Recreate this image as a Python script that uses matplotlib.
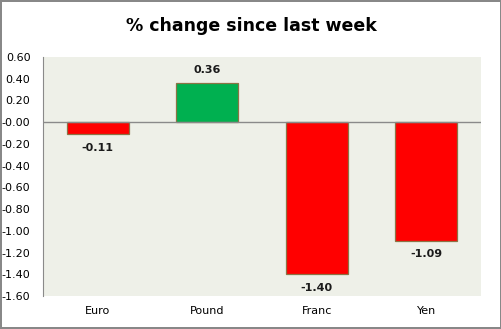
import matplotlib.pyplot as plt
import numpy as np

currencies = ['Euro', 'Pound', 'Franc', 'Yen']
changes = [-0.11, 0.36, -1.40, -1.09]
bar_colors = ['#FF0000', '#00B050', '#FF0000', '#FF0000']
yticks = np.arange(-1.6, 0.61, 0.2)

fig = plt.figure(figsize=(5.02, 3.29), dpi=100)
fig.patch.set_facecolor('white')
fig.patch.set_edgecolor('#888888')
fig.patch.set_linewidth(1.5)

ax = fig.add_axes([43 / 502, 1 - 296 / 329, 438 / 502, 239 / 329])
ax.set_facecolor('#EEF0E8')

x = np.arange(len(currencies))
ax.bar(x, changes, width=0.57, color=bar_colors, edgecolor='#8B7345', linewidth=0.9, zorder=2)

for xi, v in zip(x, changes):
    off = 0.07 if v > 0 else -0.08
    ax.text(xi, v + off, f'{v:.2f}', ha='center', va='bottom' if v > 0 else 'top',
            fontsize=8, fontweight='bold', color='#1a1a1a')

ax.axhline(0, color='#8a8a8a', linewidth=1, zorder=3)
ax.set_xlim(-0.5, 3.5)
ax.set_ylim(-1.6, 0.6)
ax.set_yticks(yticks)
ax.set_yticklabels([f'{t:.2f}' for t in yticks], fontsize=8)
ax.set_xticks(x)
ax.set_xticklabels(currencies, fontsize=8)
ax.tick_params(axis='x', length=0, pad=7)
ax.tick_params(axis='y', length=0, pad=9)

for s in ['top', 'right', 'bottom']:
    ax.spines[s].set_visible(False)
ax.spines['left'].set_color('#8a8a8a')

fig.text(0.5, 1 - 26 / 329, '% change since last week', ha='center', va='center',
         fontsize=12.5, fontweight='bold')

fig.savefig('out.png', dpi=100, facecolor=fig.get_facecolor(), edgecolor=fig.get_edgecolor())
